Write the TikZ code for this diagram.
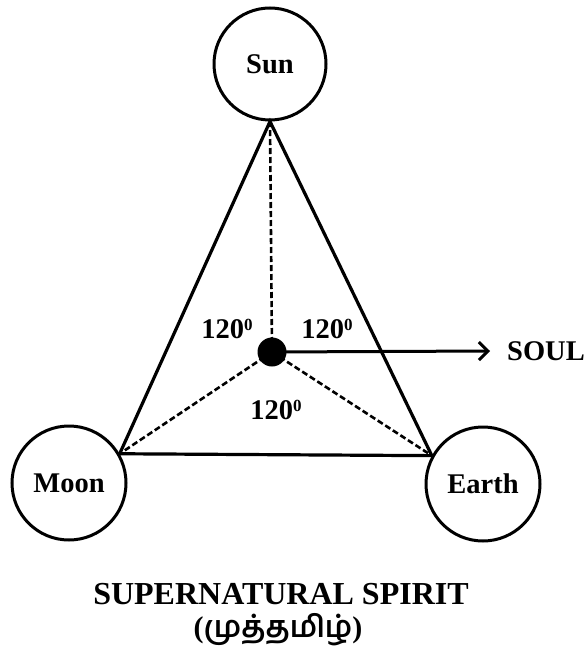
\documentclass[tikz,border=0pt]{standalone}
\usepackage{fontspec}
\setmainfont{Liberation Serif}
\newfontfamily\tamilfont[Script=Tamil]{Hind Madurai}
\usetikzlibrary{arrows.meta}
\begin{document}
\begin{tikzpicture}[x=1pt,y=-1pt,
  body/.style={circle,draw,line width=3pt,inner sep=0pt,font=\fontsize{28.5}{31}\selectfont\bfseries},
  side/.style={line width=3.2pt,line join=miter},
  ray/.style={line width=2.6pt,dash pattern=on 6pt off 3pt},
  lbl/.style={font=\fontsize{28.5}{31}\selectfont\bfseries,inner sep=0pt}]
\useasboundingbox (0,0) rectangle (587,652);
\node[body,minimum size=112pt] (sun) at (270,64) {Sun};
\node[body,minimum size=114pt] (moon) at (69,483) {Moon};
\node[body,minimum size=114pt] (earth) at (483,484) {Earth};
\node[circle,fill,minimum size=29pt,inner sep=0pt] (soulpt) at (272,352) {};
\coordinate (vs) at (sun.south);
\coordinate (vm) at (moon.30);
\coordinate (ve) at (earth.151);
\draw[side] (vs) -- (vm) -- (ve) -- cycle;
\draw[ray] (soulpt.center) -- (vs);
\draw[ray] (soulpt.center) -- (vm);
\draw[ray] (soulpt.center) -- (ve);
\node[lbl,anchor=west] (soul) at (507,351) {SOUL};
\coordinate (tip) at (490,351);
\draw[line width=3pt,-{Straight Barb[length=9pt,width=18pt,line width=3pt]}] (soulpt.center) -- (tip);
\node[lbl] (a1) at (227,329) {120\raisebox{0.6ex}{\fontsize{17}{18}\selectfont 0}};
\node[lbl] (a2) at (327,329) {120\raisebox{0.6ex}{\fontsize{17}{18}\selectfont 0}};
\node[lbl] (a3) at (276,410) {120\raisebox{0.6ex}{\fontsize{17}{18}\selectfont 0}};
\node[font=\fontsize{32}{36}\selectfont\bfseries,inner sep=0pt] (title) at (281,594) {SUPERNATURAL SPIRIT};
\node[font=\fontsize{30}{34}\selectfont\bfseries,inner sep=0pt] (tamil) at (278,630) {({\tamilfont முத்தமிழ்})};
\end{tikzpicture}
\end{document}
